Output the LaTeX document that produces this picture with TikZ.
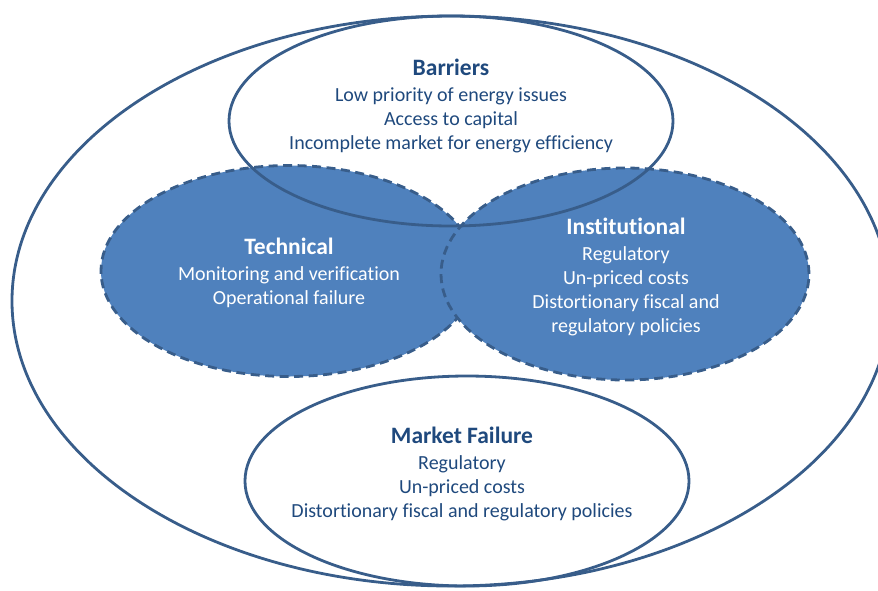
\documentclass[tikz,border=0pt]{standalone}
\usepackage{fontspec}
\setmainfont{Carlito}[Ligatures=NoCommon]
\usetikzlibrary{shapes.geometric}
\definecolor{lineblue}{HTML}{385D8A}
\definecolor{fillblue}{HTML}{4F81BD}
\definecolor{textblue}{HTML}{1F497D}
\tikzset{
  outline/.style={ellipse, draw=lineblue, line width=2.8pt, inner sep=0pt},
  filled/.style={ellipse, draw=lineblue, fill=fillblue, line width=2.8pt, dash pattern=on 9pt off 5.5pt, inner sep=0pt},
  darktext/.style={text=textblue, align=center, font=\fontsize{20}{24}\selectfont},
  lighttext/.style={text=white, align=center, font=\fontsize{20}{24}\selectfont},
}
\newcommand{\ttl}[1]{\textbf{\fontsize{23.5}{24}\selectfont #1}}
\begin{document}
\begin{tikzpicture}[x=1pt,y=-1pt]
\useasboundingbox (0,0) rectangle (878,590);
\node[outline, minimum width=878pt, minimum height=570pt] (outer) at (451,301) {};
\node[filled, minimum width=376pt, minimum height=211pt] (tech) at (289,271) {};
\node[filled, minimum width=368pt, minimum height=212pt] (inst) at (625,274) {};
\node[outline, minimum width=444pt, minimum height=210pt] (barr) at (451,121) {};
\node[outline, minimum width=444pt, minimum height=210pt] (mkt) at (467,481) {};
\node[darktext, anchor=north] (barrtxt) at (451,55) {\ttl{Barriers}\\[2pt]Low priority of energy issues\\Access to capital\\Incomplete market for energy efficiency};
\node[lighttext, anchor=north] (techtxt) at (289,234) {\ttl{Technical}\\[2pt]Monitoring and verification\\Operational failure};
\node[lighttext, anchor=north] (insttxt) at (626,214) {\ttl{Institutional}\\[2pt]Regulatory\\Un-priced costs\\Distortionary fiscal and\\regulatory policies};
\node[darktext, anchor=north] (mkttxt) at (462,423) {\ttl{Market Failure}\\[2pt]Regulatory\\Un-priced costs\\Distortionary fiscal and regulatory policies};
\end{tikzpicture}
\end{document}
